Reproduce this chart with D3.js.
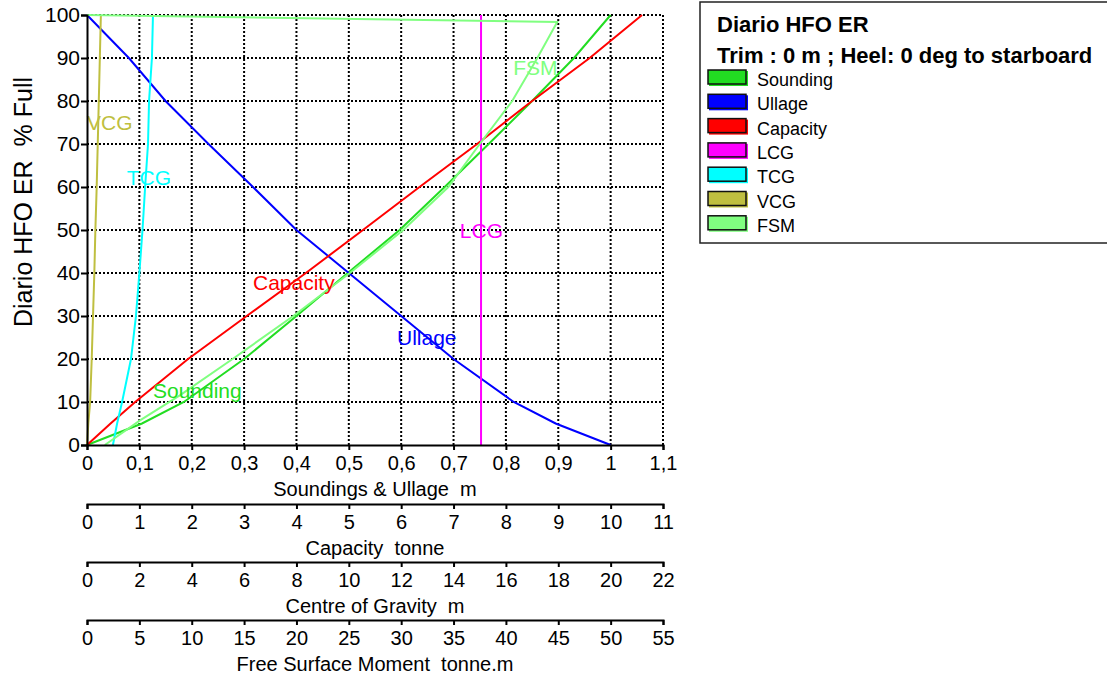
<!DOCTYPE html>
<html>
<head>
<meta charset="utf-8">
<script src="https://cdn.jsdelivr.net/npm/d3@7"></script>
<style>
  body { margin: 0; background: #fff; }
  svg { font-family: "Liberation Sans", Arial, sans-serif; }
  .grid line { stroke: #000; stroke-width: 2; stroke-dasharray: 2,2; }
  .axis path, .axis line { stroke: #000; stroke-width: 2; }
  .axis text { font-size: 20px; fill: #000; }
  .title { font-size: 20px; white-space: pre; }
</style>
</head>
<body>
<svg></svg>
<script>
// tank filling levels (% full) the curves are sampled at
const pctFull = [0, 5, 10, 20, 30, 40, 50, 60, 70, 80, 90, 100]

// soundings & ullage, m
const sounding = [0, 0.105, 0.185, 0.30, 0.40, 0.498, 0.597, 0.683, 0.767, 0.85, 0.93, 1.0]
const ullage = [1.0, 0.895, 0.815, 0.70, 0.60, 0.50, 0.40, 0.317, 0.232, 0.15, 0.08, 0]
// capacity, tonne
const capacity = [0, 0.45, 0.92, 1.93, 3.05, 4.18, 5.27, 6.35, 7.45, 8.5, 9.6, 10.6]
// centres of gravity, m
const lcg = [15.05, 15.05, 15.05, 15.05, 15.05, 15.05, 15.05, 15.05, 15.05, 15.05, 15.05, 15.05]
const tcg = [0.99, 1.15, 1.34, 1.68, 1.87, 2.0, 2.12, 2.22, 2.33, 2.37, 2.48, 2.52]
const vcg = [0, 0.05, 0.12, 0.18, 0.23, 0.28, 0.32, 0.37, 0.41, 0.45, 0.49, 0.53]
// free surface moment has its own sample levels
const fsmPct = [0, 5.8, 11.6, 20, 30, 40, 50, 60, 70, 80, 90, 98.4, 100]
const fsm = [1.7, 5.1, 8.9, 13.9, 19.7, 25.1, 30.2, 34.5, 37.5, 40.6, 43.0, 44.9, 0]

const seriesNames = ["Sounding", "Ullage", "Capacity", "LCG", "TCG", "VCG", "FSM"]
const seriesColors = ["#22dd22", "#0000ff", "#ff0000", "#ff00ff", "#00ffff", "#bfbf40", "#80ff80"]

const pctTicks = [0, 10, 20, 30, 40, 50, 60, 70, 80, 90, 100]

const svg = d3.select("svg")
    .attr("width", 1107)
    .attr("height", 685)

const plotLeft = 87, plotRight = 663, plotTop = 15, plotBottom = 445

const y = d3.scaleLinear().domain([0, 100]).range([plotBottom, plotTop])
const xM = d3.scaleLinear().domain([0, 1.1]).range([plotLeft, plotRight])
const xT = d3.scaleLinear().domain([0, 11]).range([plotLeft, plotRight])
const xCG = d3.scaleLinear().domain([0, 22]).range([plotLeft, plotRight])
const xFSM = d3.scaleLinear().domain([0, 55]).range([plotLeft, plotRight])

// dotted grid
const grid = svg.append("g").attr("class", "grid")
grid.selectAll("line.v")
    .data(d3.range(1, 12).map(d => d / 10))
    .enter().append("line")
    .attr("class", "v")
    .attr("x1", d => xM(d)).attr("x2", d => xM(d))
    .attr("y1", plotTop).attr("y2", plotBottom)
grid.selectAll("line.h")
    .data(pctTicks.slice(1))
    .enter().append("line")
    .attr("class", "h")
    .attr("x1", plotLeft).attr("x2", plotRight)
    .attr("y1", d => y(d)).attr("y2", d => y(d))

// curves
const rows = [
    { name: "Sounding", scale: xM, pts: pctFull.map((p, i) => [sounding[i], p]) },
    { name: "Ullage", scale: xM, pts: pctFull.map((p, i) => [ullage[i], p]) },
    { name: "Capacity", scale: xT, pts: pctFull.map((p, i) => [capacity[i], p]) },
    { name: "LCG", scale: xCG, pts: pctFull.map((p, i) => [lcg[i], p]) },
    { name: "TCG", scale: xCG, pts: pctFull.map((p, i) => [tcg[i], p]) },
    { name: "VCG", scale: xCG, pts: pctFull.map((p, i) => [vcg[i], p]) },
    { name: "FSM", scale: xFSM, pts: fsmPct.map((p, i) => [fsm[i], p]) }
]

const color = d3.scaleOrdinal().domain(seriesNames).range(seriesColors)

svg.append("g").selectAll("path")
    .data(rows)
    .enter().append("path")
    .attr("fill", "none")
    .attr("stroke", d => color(d.name))
    .attr("stroke-width", 2)
    .attr("d", d => d3.line().x(p => d.scale(p[0])).y(p => y(p[1]))(d.pts))

// curve names inside the plot (anchor in sounding metres / % full)
const curveLabels = [
    { name: "VCG", x: 0.0, p: 73.3 },
    { name: "TCG", x: 0.076, p: 60.5 },
    { name: "LCG", x: 0.712, p: 48.1 },
    { name: "FSM", x: 0.814, p: 86.0 },
    { name: "Capacity", x: 0.317, p: 36.0 },
    { name: "Ullage", x: 0.592, p: 23.3 },
    { name: "Sounding", x: 0.126, p: 10.9 }
]
svg.append("g").selectAll("text")
    .data(curveLabels)
    .enter().append("text")
    .attr("x", d => xM(d.x))
    .attr("y", d => y(d.p))
    .attr("fill", d => color(d.name))
    .style("font-size", "21px")
    .text(d => d.name)

// axes
const comma = d => String(d).replace(".", ",")

svg.append("g")
    .attr("class", "axis")
    .attr("transform", `translate(${plotLeft},0)`)
    .call(d3.axisLeft(y).tickValues(pctTicks).tickSize(6).tickPadding(1))
    .call(g => g.selectAll("text").style("font-size", "21px"))

const bottomAxes = [
    { scale: xM, step: 0.1, title: "Soundings & Ullage  m", y0: 445 },
    { scale: xT, step: 1, title: "Capacity  tonne", y0: 504 },
    { scale: xCG, step: 2, title: "Centre of Gravity  m", y0: 562 },
    { scale: xFSM, step: 5, title: "Free Surface Moment  tonne.m", y0: 620 }
]

bottomAxes.forEach(a => {
    const dom = a.scale.domain()
    const ticks = d3.range(0, Math.round(dom[1] / a.step) + 1).map(i => +(i * a.step).toFixed(2))
    svg.append("g")
        .attr("class", "axis")
        .attr("transform", `translate(0,${a.y0})`)
        .call(d3.axisBottom(a.scale).tickValues(ticks).tickFormat(comma).tickSize(5).tickSizeOuter(5).tickPadding(6))
    svg.append("text")
        .attr("class", "title")
        .attr("x", (plotLeft + plotRight) / 2)
        .attr("y", a.y0 + 51)
        .attr("text-anchor", "middle")
        .text(a.title)
})

// y axis title
svg.append("text")
    .attr("class", "title")
    .attr("transform", "translate(32,202) rotate(-90)")
    .attr("text-anchor", "middle")
    .style("font-size", "25px")
    .text("Diario HFO ER  % Full")

// legend
const legend = svg.append("g")
legend.append("rect")
    .attr("x", 700).attr("y", 2)
    .attr("width", 420).attr("height", 241)
    .attr("fill", "#fff")
    .attr("stroke", "#222")
    .attr("stroke-width", 1.5)
legend.append("text")
    .attr("x", 717).attr("y", 32)
    .style("font-size", "22px").style("font-weight", "bold")
    .text("Diario HFO ER")
legend.append("text")
    .attr("x", 717).attr("y", 63)
    .style("font-size", "22px").style("font-weight", "bold")
    .text("Trim : 0 m ; Heel: 0 deg to starboard")

const item = legend.selectAll("g.item")
    .data(seriesNames)
    .enter().append("g")
    .attr("class", "item")
    .attr("transform", (d, i) => `translate(708,${70 + i * 24.3})`)
item.append("rect")
    .attr("x", 1).attr("y", 1).attr("width", 39).attr("height", 15)
    .attr("fill", d => color(d))
item.append("rect")
    .attr("width", 38).attr("height", 14)
    .attr("fill", d => color(d))
    .attr("stroke", "#111").attr("stroke-width", 1.5)
item.append("text")
    .attr("x", 49).attr("y", 16)
    .style("font-size", "18px")
    .text(d => d)
</script>
</body>
</html>
